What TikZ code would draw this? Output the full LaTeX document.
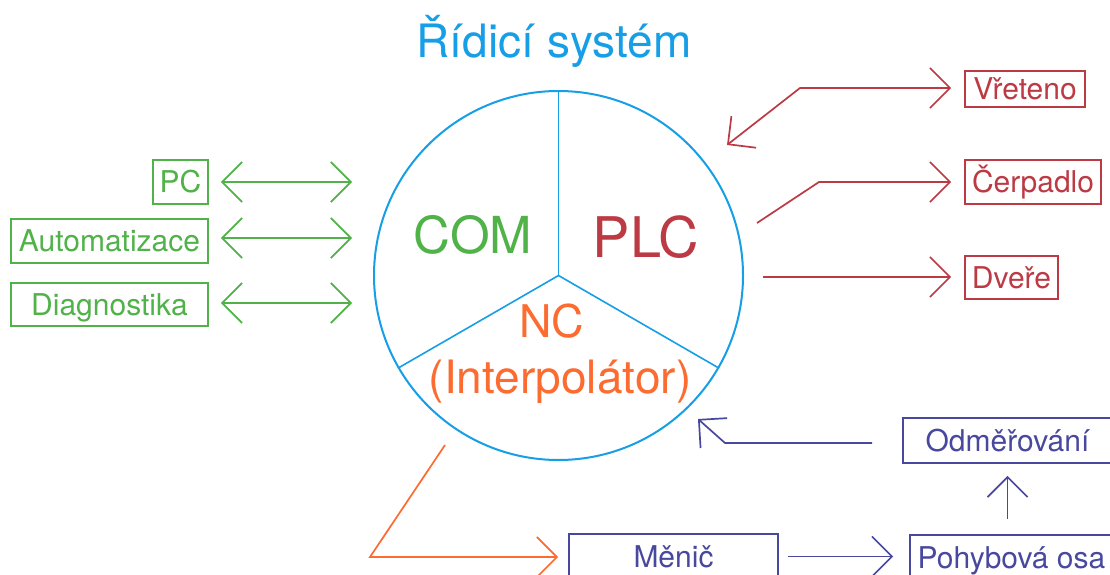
\documentclass[tikz,border=0pt]{standalone}
\usepackage{fontspec}
\setmainfont{TeX Gyre Heros}
\usetikzlibrary{arrows.meta}
\definecolor{cblue}{RGB}{22,158,230}
\definecolor{cgreen}{RGB}{80,178,72}
\definecolor{cred}{RGB}{188,58,68}
\definecolor{corange}{RGB}{252,108,48}
\definecolor{cpurple}{RGB}{72,72,158}
\newcommand\myfs[1]{\fontsize{#1}{#1}\selectfont}
\begin{document}
\begin{tikzpicture}[x=1pt,y=-1pt,
  lw/.style={line width=1.7pt},
  conn/.style={lw, >={Straight Barb[length=20pt,width=40pt]}},
  boxbase/.style={lw, inner sep=0pt, text height=21.5pt, text depth=0pt, font=\myfs{30}},
  gbox/.style={boxbase, draw=cgreen, text=cgreen},
  rbox/.style={boxbase, draw=cred, text=cred},
  pbox/.style={boxbase, draw=cpurple, text=cpurple},
  lbl/.style={anchor=base, inner sep=0pt},
]
\fill[white] (0,0) rectangle (1110,575);
\clip (0,0) rectangle (1110,575);

% title and circle
\node[lbl, text=cblue, font=\myfs{46}] (title) at (554,58) {Řídicí systém};
\node[draw=cblue, line width=2pt, circle, minimum size=369pt, inner sep=0pt] (sys) at (558.5,275.5) {};
\draw[cblue, line width=1.6pt] (sys.center) -- (sys.90);
\draw[cblue, line width=1.6pt] (sys.center) -- (sys.210);
\draw[cblue, line width=1.6pt] (sys.center) -- (sys.330);
\node[lbl, text=cgreen, font=\myfs{51}] (com) at (473,253) {COM};
\node[lbl, text=cred, font=\myfs{56}] (plc) at (646,257) {PLC};
\node[lbl, text=corange, font=\myfs{45}] (nc) at (552,337) {NC};
\node[lbl, text=corange, font=\myfs{46}] (interp) at (560,393) {(Interpolátor)};

% left boxes
\node[gbox, minimum width=55pt, minimum height=44pt] (pc) at (180.5,182) {PC};
\node[gbox, minimum width=197pt, minimum height=44pt] (aut) at (109.5,241) {Automatizace};
\node[gbox, minimum width=197pt, minimum height=43pt] (dia) at (109.5,304.5) {Diagnostika};

% right boxes
\node[rbox, minimum width=120pt, minimum height=36pt] (vre) at (1025,89) {Vřeteno};
\node[rbox, minimum width=136pt, minimum height=44pt] (cer) at (1033,182) {Čerpadlo};
\node[rbox, minimum width=93pt, minimum height=43pt] (dve) at (1011.5,277.5) {Dveře};

% bottom boxes
\node[pbox, minimum width=209pt, minimum height=45pt] (odm) at (1007.5,440.5) {Odměřování};
\node[pbox, minimum width=209pt, minimum height=45pt] (men) at (673.5,556.5) {Měnič};
\node[pbox, minimum width=203pt, minimum height=45pt] (pos) at (1011.5,557.5) {Pohybová osa};

% green connectors
\coordinate (gx) at (352,0);
\draw[conn, cgreen, <->, shorten <=12pt] (pc.east) -- (pc.east -| gx);
\draw[conn, cgreen, <->, shorten <=12pt] ([yshift=3pt]aut.east) -- ([yshift=3pt]aut.east -| gx);
\draw[conn, cgreen, <->, shorten <=12pt] ([yshift=1.5pt]dia.east) -- ([yshift=1.5pt]dia.east -| gx);

% red connectors
\coordinate (vrT) at (727,145);
\coordinate (vrK) at (800,88);
\draw[conn, cred, <->, shorten >=13pt] (vrT) -- (vrK) -- (vrK -| vre.west);
\coordinate (ceS) at (757,223);
\coordinate (ceK) at (819,182);
\draw[conn, cred, ->, shorten >=13pt] (ceS) -- (ceK) -- (ceK -| cer.west);
\coordinate (dvS) at (763,277);
\draw[conn, cred, ->, shorten >=13pt] (dvS) -- (dvS -| dve.west);

% orange connector
\coordinate (ncS) at (445,445);
\coordinate (ncK) at (370,557);
\draw[conn, corange, ->, shorten >=10pt] (ncS) -- (ncK) -- (ncK -| men.west);

% purple connectors
\coordinate (odA) at (872,443);
\coordinate (odK) at (725,443);
\coordinate (odT) at (698,419);
\draw[conn, cpurple, ->] (odA) -- (odK) -- (odT);
\draw[conn, cpurple, ->, shorten <=9pt, shorten >=16pt] (men.east) -- (men.east -| pos.west);
\draw[conn, cpurple, ->, shorten <=15pt, shorten >=12pt] (pos.north -| odm.south) -- (odm.south);
\end{tikzpicture}
\end{document}
